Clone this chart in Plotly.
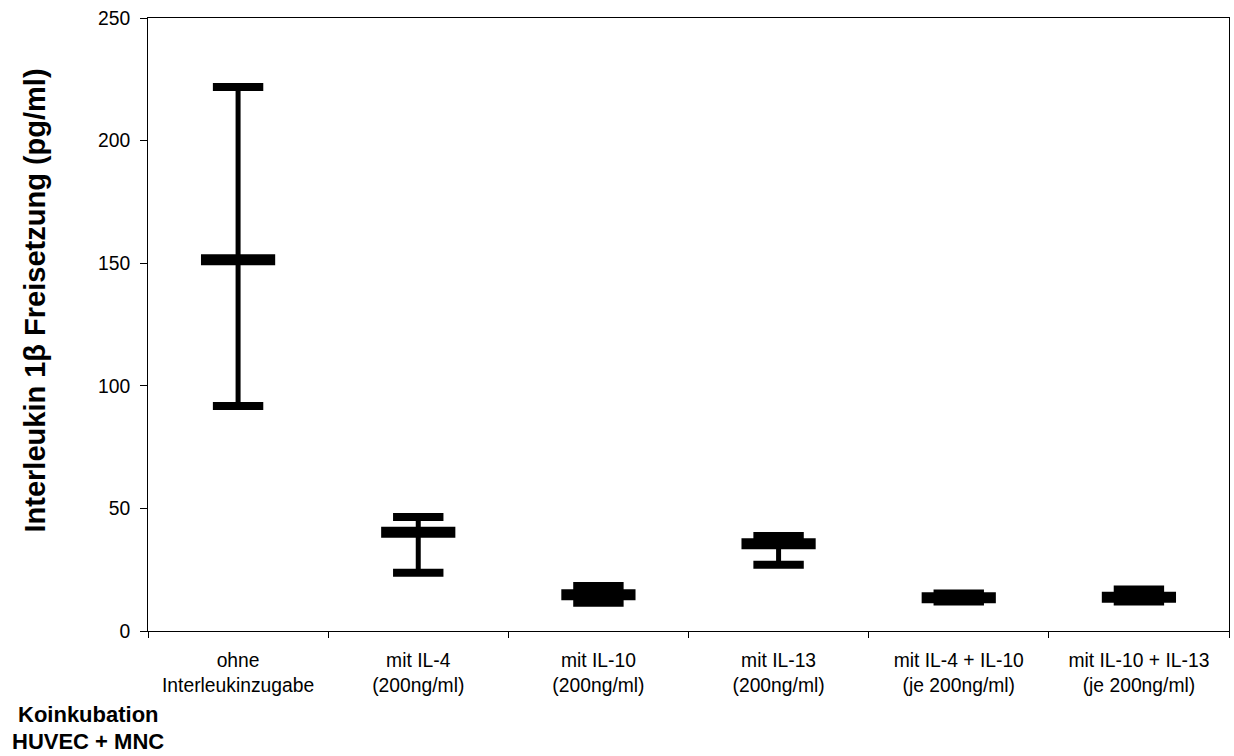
import plotly.graph_objects as go

categories = ["ohne<br>Interleukinzugabe", "mit IL-4<br>(200ng/ml)", "mit IL-10<br>(200ng/ml)",
              "mit IL-13<br>(200ng/ml)", "mit IL-4 + IL-10<br>(je 200ng/ml)",
              "mit IL-10 + IL-13<br>(je 200ng/ml)"]
mean_vals = [151.4, 40.3, 14.8, 35.6, 13.6, 13.8]
upper_vals = [221.9, 46.5, 18.4, 38.7, 15.3, 16.9]
lower_vals = [91.8, 23.8, 11.5, 27.0, 12.0, 12.0]
y_ticks = [0, 50, 100, 150, 200, 250]

FONT = "Liberation Sans, Arial, sans-serif"

err_plus = [u - m for u, m in zip(upper_vals, mean_vals)]
err_minus = [m - l for m, l in zip(mean_vals, lower_vals)]

fig = go.Figure()
# vertical whisker lines
fig.add_trace(go.Scatter(
    x=categories, y=mean_vals, mode="markers",
    marker=dict(size=1, color="rgba(0,0,0,0)"),
    error_y=dict(type="data", array=err_plus, arrayminus=err_minus,
                 width=0, thickness=5, color="black"),
    showlegend=False, hoverinfo="skip"))
# caps
fig.add_trace(go.Scatter(
    x=categories + categories, y=upper_vals + lower_vals, mode="markers",
    marker=dict(symbol="line-ew", size=36, color="black",
                line=dict(width=8, color="black")),
    showlegend=False))
# mean marker
fig.add_trace(go.Scatter(
    x=categories, y=mean_vals, mode="markers",
    marker=dict(symbol="line-ew", size=53, color="black",
                line=dict(width=11, color="black")),
    showlegend=False))

fig.update_layout(
    width=1234, height=756,
    margin=dict(l=148, r=5, t=18, b=125),
    plot_bgcolor="white", paper_bgcolor="white",
    font=dict(family=FONT, size=19, color="black"),
    showlegend=False,
)
fig.update_xaxes(
    type="category", range=[-0.5, 5.5], tickson="boundaries",
    ticks="outside", ticklen=6, tickcolor="black", tickwidth=1,
    ticklabelstandoff=12,
    showline=True, linecolor="black", linewidth=1, mirror=True,
    showgrid=False, zeroline=False,
    tickfont=dict(family=FONT, size=19.3, color="black"))
fig.update_yaxes(
    range=[0, 250], tickvals=y_ticks, ticktext=[str(v) for v in y_ticks],
    ticks="outside", ticklen=7, tickcolor="black", tickwidth=1,
    ticklabelstandoff=6,
    showline=True, linecolor="black", linewidth=1, mirror=True,
    showgrid=False, zeroline=False,
    tickfont=dict(family=FONT, size=19.3, color="black"))

fig.add_annotation(
    text="<b>Interleukin 1β Freisetzung (pg/ml)</b>", textangle=-90,
    xref="paper", yref="paper", x=-0.105, y=0.54, xanchor="center", yanchor="middle",
    showarrow=False, font=dict(family=FONT, size=29, color="black"))
fig.add_annotation(
    text="<b>Koinkubation</b>", xref="paper", yref="paper",
    x=-0.0555, y=-0.137, xanchor="center", yanchor="middle",
    showarrow=False, font=dict(family=FONT, size=22, color="black"))
fig.add_annotation(
    text="<b>HUVEC + MNC</b>", xref="paper", yref="paper",
    x=-0.0555, y=-0.181, xanchor="center", yanchor="middle",
    showarrow=False, font=dict(family=FONT, size=22, color="black"))

fig.write_html("out.html")
